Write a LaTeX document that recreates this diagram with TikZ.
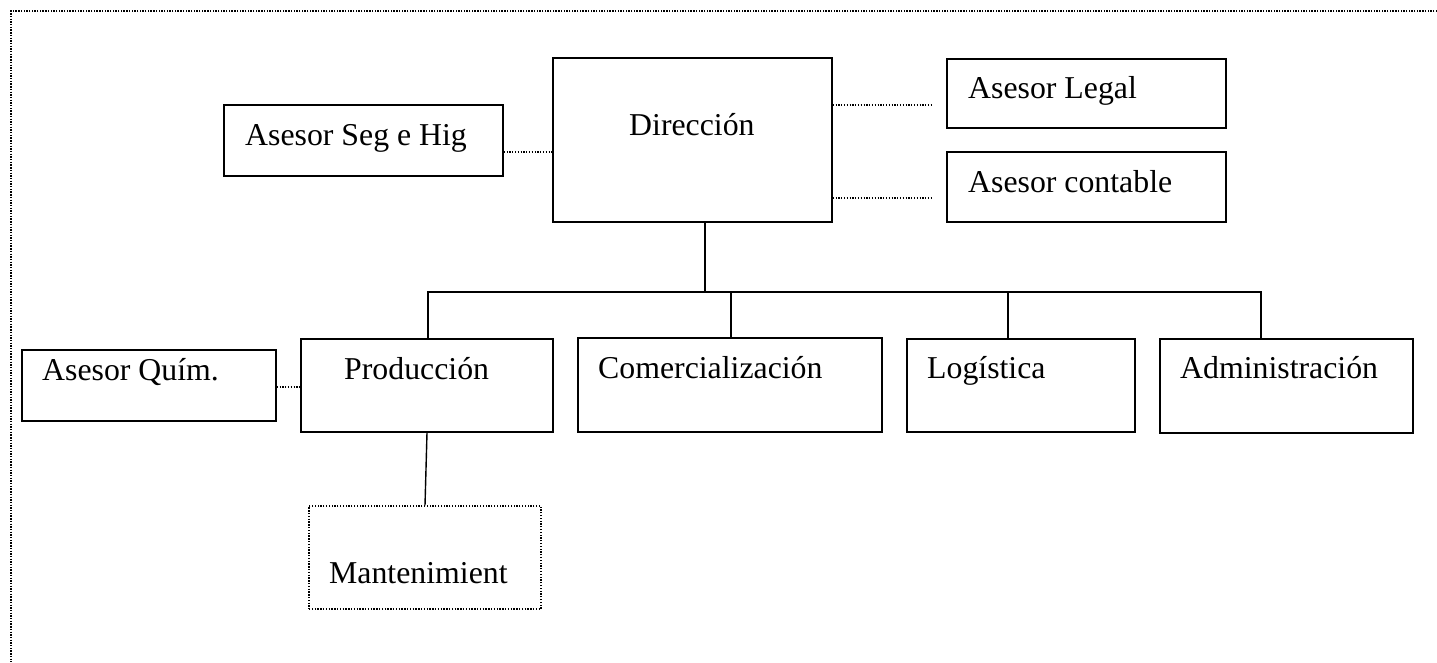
\documentclass[tikz,border=0pt]{standalone}
\usepackage{fontspec}
\setmainfont{Liberation Serif}
\begin{document}
\begin{tikzpicture}[x=1pt,y=-1pt,
  bx/.style={draw, line width=1.4pt, inner sep=0pt},
  dotbox/.style={draw, line width=1.3pt, inner sep=0pt, dash pattern=on 1.3pt off 1.5pt},
  txt/.style={anchor=base west, inner sep=0pt, font=\fontsize{31.8}{36}\selectfont},
  conn/.style={line width=1.4pt},
  dotline/.style={line width=1.2pt, dash pattern=on 1.2pt off 1.6pt},
  border/.style={line width=1.6pt, dash pattern=on 1.4pt off 1.3pt}]
\useasboundingbox (0,0) rectangle (1437,662);
% outer border
\coordinate (bTR) at (1437,11);
\coordinate (bTL) at (11,11);
\coordinate (bBL) at (11,662);
\draw[border] (bTR) -- (bTL) -- (bBL);
% boxes
\node[bx, minimum width=279pt, minimum height=164pt] (dir) at (692.5,140) {};
\node[bx, minimum width=279pt, minimum height=69pt] (legal) at (1086.5,93.5) {};
\node[bx, minimum width=279pt, minimum height=70pt] (cont) at (1086.5,187) {};
\node[bx, minimum width=279pt, minimum height=71pt] (seg) at (363.5,140.5) {};
\node[bx, minimum width=254pt, minimum height=71pt] (quim) at (149,385.5) {};
\node[bx, minimum width=252pt, minimum height=93pt] (prod) at (427,385.5) {};
\node[bx, minimum width=304pt, minimum height=94pt] (com) at (730,385) {};
\node[bx, minimum width=228pt, minimum height=93pt] (log) at (1021,385.5) {};
\node[bx, minimum width=253pt, minimum height=94pt] (adm) at (1286.5,386) {};
\node[dotbox, minimum width=232pt, minimum height=103pt] (mant) at (425,557.5) {};
% texts
\node[txt] (dirT) at (629,135) {Dirección};
\node[txt] (legalT) at (968,98) {Asesor Legal};
\node[txt] (contT) at (968,192) {Asesor contable};
\node[txt] (segT) at (245,145) {Asesor Seg e Hig};
\node[txt] (quimT) at (42,380) {Asesor Quím.};
\node[txt] (prodT) at (344,379) {Producción};
\node[txt] (comT) at (598,378) {Comercialización};
\node[txt] (logT) at (927,378) {Logística};
\node[txt] (admT) at (1180,378) {Administración};
\node[txt] (mantT) at (329,583) {Mantenimient};
% dotted connectors
\coordinate (l1) at (931,105);
\coordinate (l2) at (931,198);
\draw[dotline] (seg.east |- 0,152) -- (dir.west |- 0,152);
\draw[dotline] (dir.east |- l1) -- (l1);
\draw[dotline] (dir.east |- l2) -- (l2);
\draw[dotline] (quim.east |- 0,387) -- (prod.west |- 0,387);
% solid tree
\coordinate (dB) at (705,292);
\coordinate (busL) at (428,292);
\coordinate (busR) at (1261,292);
\coordinate (dC) at (731,292);
\coordinate (dL) at (1008,292);
\draw[conn] (dB |- dir.south) -- (dB);
\draw[conn] (busL |- prod.north) -- (busL) -- (busR) -- (busR |- adm.north);
\draw[conn] (dC) -- (dC |- com.north);
\draw[conn] (dL) -- (dL |- log.north);
\draw[conn] (prod.south) -- (mant.north);
\end{tikzpicture}
\end{document}
